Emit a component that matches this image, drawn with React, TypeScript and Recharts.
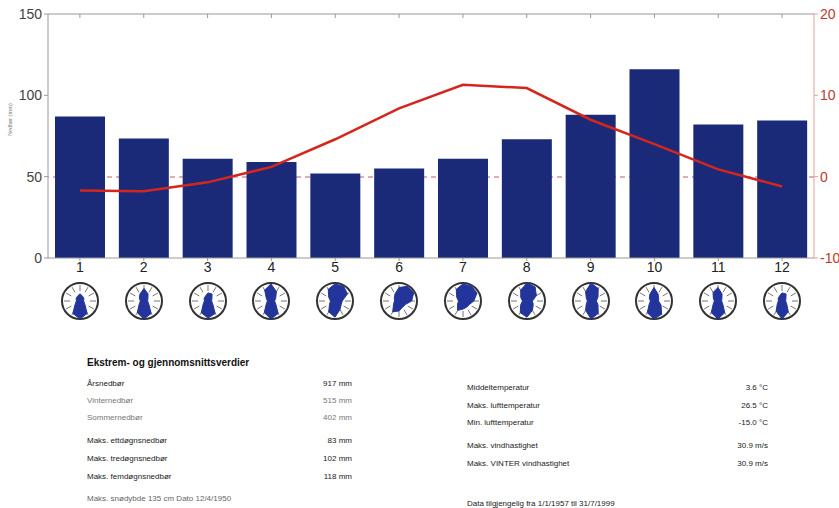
import {
  Bar,
  ComposedChart,
  Label,
  Line,
  PolarAngleAxis,
  PolarGrid,
  PolarRadiusAxis,
  Radar,
  RadarChart,
  ReferenceLine,
  XAxis,
  YAxis,
} from "recharts";

const months = ["1", "2", "3", "4", "5", "6", "7", "8", "9", "10", "11", "12"];
// Monthly precipitation (mm) and mean temperature (°C)
const precipitation = [87, 73.5, 61, 59, 52, 55, 61, 73, 88, 116, 82, 84.5];
const temperature = [-1.7, -1.8, -0.7, 1.2, 4.6, 8.4, 11.3, 10.9, 7.0, 4.0, 0.9, -1.2];
const precipTicks = [0, 50, 100, 150];
const tempTicks = [-10, 0, 10, 20];

// Wind rose directions, clockwise from north, with relative frequency per month
const directions = ["N", "NNØ", "ØNØ", "Ø", "ØSØ", "SSØ", "S", "SSV", "VSV", "V", "VNV", "NNV"];
const windByMonth = [
  [0.4, 0.3, 0.25, 0.2, 0.3, 0.8, 1.0, 0.8, 0.3, 0.2, 0.25, 0.3],
  [0.7, 0.45, 0.25, 0.2, 0.3, 0.8, 1.0, 0.75, 0.3, 0.2, 0.3, 0.45],
  [0.45, 0.45, 0.25, 0.2, 0.3, 0.8, 0.95, 0.75, 0.3, 0.2, 0.25, 0.3],
  [0.95, 0.6, 0.3, 0.2, 0.3, 0.8, 1.0, 0.75, 0.3, 0.2, 0.3, 0.7],
  [0.95, 0.95, 0.8, 0.4, 0.4, 0.55, 0.9, 0.7, 0.35, 0.25, 0.4, 0.75],
  [0.75, 0.95, 0.95, 0.7, 0.4, 0.4, 0.55, 0.7, 0.35, 0.25, 0.3, 0.45],
  [0.95, 0.95, 0.9, 0.6, 0.4, 0.4, 0.45, 0.6, 0.35, 0.25, 0.4, 0.75],
  [1.0, 0.9, 0.6, 0.3, 0.4, 0.6, 0.9, 0.75, 0.4, 0.25, 0.4, 0.7],
  [1.0, 0.8, 0.45, 0.3, 0.45, 0.8, 1.0, 0.6, 0.3, 0.2, 0.3, 0.6],
  [0.75, 0.45, 0.3, 0.25, 0.45, 0.85, 1.0, 0.75, 0.3, 0.2, 0.3, 0.45],
  [0.75, 0.45, 0.25, 0.2, 0.3, 0.75, 1.0, 0.75, 0.3, 0.2, 0.3, 0.55],
  [0.45, 0.45, 0.25, 0.2, 0.3, 0.7, 1.0, 0.65, 0.3, 0.2, 0.25, 0.3],
];

// Summary table
const precipLabels = [
  "Årsnedbør",
  "Vinternedbør",
  "Sommernedbør",
  "Maks. ettdøgnsnedbør",
  "Maks. tredøgnsnedbør",
  "Maks. femdøgnsnedbør",
];
const precipValues = ["917 mm", "515 mm", "402 mm", "83 mm", "102 mm", "118 mm"];
const climateLabels = [
  "Middeltemperatur",
  "Maks. lufttemperatur",
  "Min. lufttemperatur",
  "Maks. vindhastighet",
  "Maks. VINTER vindhastighet",
];
const climateValues = ["3.6 °C", "26.5 °C", "-15.0 °C", "30.9 m/s", "30.9 m/s"];
const snowNote = "Maks. snødybde 135 cm   Dato 12/4/1950";
const periodNote = "Data tilgjengelig fra 1/1/1957 til 31/7/1999";

const data = months.map((m, i) => ({
  month: m,
  precip: precipitation[i],
  temp: temperature[i],
}));

const PLOT_LEFT = 48;
const PLOT_RIGHT = 814;
const BAND = (PLOT_RIGHT - PLOT_LEFT) / months.length;

const precipRowY = [384, 401, 418, 441, 459, 477];
const precipRowColor = ["#222", "#777", "#777", "#222", "#222", "#222"];
const climateRowY = [388, 406, 423, 446, 464];

const textFont = '"Liberation Sans", Arial, sans-serif';
const tickFont = { fontSize: 14, fontFamily: "Arial, sans-serif" };
const chartMargin = { top: 14, right: 0, bottom: 0, left: 6 };

function WindRose({ values }: { values: number[] }) {
  const rose = directions.map((d, i) => ({ dir: d, v: values[i] }));
  return (
    <RadarChart width={44} height={44} data={rose} outerRadius={18} margin={{ top: 0, right: 0, bottom: 0, left: 0 }}>
      <PolarGrid gridType="circle" polarRadius={[18]} radialLines={false} stroke="#333" strokeWidth={2} />
      <PolarGrid gridType="circle" polarRadius={[0.01]} stroke="#777" strokeDasharray="0 10 6 4" />
      <PolarAngleAxis dataKey="dir" tick={false} axisLine={false} tickLine={false} />
      <PolarRadiusAxis domain={[0, 1]} tick={false} axisLine={false} />
      <Radar dataKey="v" fill="#23349a" fillOpacity={1} stroke="#23349a" isAnimationActive={false} />
    </RadarChart>
  );
}

function TextCell({ x, y, children, align = "left", color = "#222", size = 8, bold = false }: any) {
  return (
    <div
      style={{
        position: "absolute",
        top: y - size * 0.65,
        left: align === "left" ? x : undefined,
        right: align === "right" ? 839 - x : undefined,
        fontFamily: textFont,
        fontSize: size,
        fontWeight: bold ? "bold" : "normal",
        color,
        whiteSpace: "nowrap",
        lineHeight: 1.3,
      }}
    >
      {children}
    </div>
  );
}

export default function App() {
  return (
    <div style={{ position: "absolute", left: 0, top: 0, width: 839, height: 508, background: "#fff" }}>
      {/* dashed 0 °C line sits underneath the bars, so it gets its own layer */}
      <div style={{ position: "absolute", left: 0, top: 0 }}>
        <ComposedChart width={839} height={280} data={data} margin={chartMargin}>
          <XAxis dataKey="month" height={22} tick={false} axisLine={false} tickLine={false} />
          <XAxis xAxisId="top" dataKey="month" orientation="top" height={1} tick={false} axisLine={false} tickLine={false} />
          <YAxis yAxisId="left" domain={[0, 150]} width={42} tick={false} axisLine={false} tickLine={false} />
          <YAxis
            yAxisId="right"
            orientation="right"
            domain={[-10, 20]}
            width={25}
            tick={false}
            axisLine={false}
            tickLine={false}
          />
          <Line yAxisId="right" dataKey="temp" stroke="none" dot={false} isAnimationActive={false} />
          <ReferenceLine yAxisId="right" y={0} stroke="#c06060" strokeWidth={1.2} strokeDasharray="5 4" />
        </ComposedChart>
      </div>

      <div style={{ position: "absolute", left: 0, top: 0 }}>
        <ComposedChart width={839} height={280} data={data} margin={chartMargin} barCategoryGap={0}>
          <XAxis
            dataKey="month"
            height={22}
            tickSize={3}
            tickMargin={1}
            stroke="#999"
            tick={{ fill: "#222", ...tickFont }}
          />
          <XAxis
            xAxisId="top"
            dataKey="month"
            orientation="top"
            height={1}
            mirror
            tickSize={4}
            stroke="#999"
            tickFormatter={() => ""}
          />
          <YAxis
            yAxisId="left"
            domain={[0, 150]}
            ticks={precipTicks}
            width={42}
            tickSize={4}
            stroke="#999"
            tick={{ fill: "#444", ...tickFont }}
          >
            <Label value="Nedbør (mm)" angle={-90} position="insideLeft" offset={4} fontSize={6} fill="#777" />
          </YAxis>
          <YAxis
            yAxisId="right"
            orientation="right"
            domain={[-10, 20]}
            ticks={tempTicks}
            width={25}
            tickSize={4}
            stroke="#e0a0a0"
            tick={{ fill: "#c0392b", ...tickFont }}
          />
          <Bar yAxisId="left" dataKey="precip" fill="#1b2a78" barSize={50} isAnimationActive={false} />
          <Line
            yAxisId="right"
            dataKey="temp"
            type="linear"
            stroke="#d4261d"
            strokeWidth={2.5}
            dot={false}
            isAnimationActive={false}
          />
        </ComposedChart>
      </div>

      {windByMonth.map((values, i) => (
        <div
          key={months[i]}
          style={{ position: "absolute", top: 279, left: PLOT_LEFT + BAND * (i + 0.5) - 22 }}
        >
          <WindRose values={values} />
        </div>
      ))}

      <TextCell x={87} y={362} size={10} bold color="#111">
        Ekstrem- og gjennomsnittsverdier
      </TextCell>
      {precipLabels.map((label, i) => (
        <div key={label}>
          <TextCell x={87} y={precipRowY[i]} color={precipRowColor[i]}>
            {label}
          </TextCell>
          <TextCell x={352} y={precipRowY[i]} align="right" color={precipRowColor[i]}>
            {precipValues[i]}
          </TextCell>
        </div>
      ))}
      <TextCell x={87} y={499} color="#666">
        {snowNote}
      </TextCell>
      {climateLabels.map((label, i) => (
        <div key={label}>
          <TextCell x={467} y={climateRowY[i]}>
            {label}
          </TextCell>
          <TextCell x={768} y={climateRowY[i]} align="right">
            {climateValues[i]}
          </TextCell>
        </div>
      ))}
      <TextCell x={467} y={504}>
        {periodNote}
      </TextCell>
    </div>
  );
}
